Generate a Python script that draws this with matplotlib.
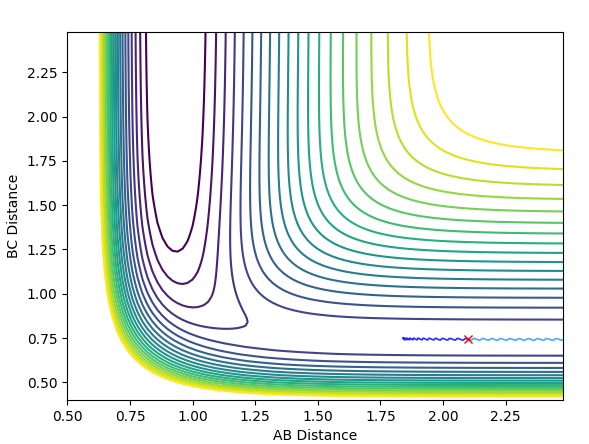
import numpy as np
import matplotlib
matplotlib.use("Agg")
import matplotlib.pyplot as plt

# LEPS surface for collinear F-H-H (eV, 1/Angstrom, Angstrom); A = F, B = C = H
D_HF, BETA_HF, RE_HF = 5.9, 2.2187, 0.917
D_HH, BETA_HH, RE_HH, SATO_HH = 4.746, 1.942, 0.7417, 0.05
BARRIER = 0.006                     # entrance barrier above F + H2 (eV)
MASSES = [19.0, 1.0, 1.0]           # amu

AB_GRID = np.arange(0.5, 2.5, 0.02)
BC_GRID = np.arange(0.4, 2.5, 0.02)
LEVEL_MIN, LEVEL_STEP, N_LEVELS = -5.476, 0.228, 20

# trajectory: released at rest near the transition state, drifts back out
START_AB, START_BC = 1.84, 0.750
CROSS_AB, CROSS_BC = 2.10, 0.742    # red marker
DT, MAX_STEPS = 0.004, 30000        # time unit 10.18 fs


def coulomb_exchange(r, d, beta, re, sato):
    e1 = np.exp(-beta * (r - re))
    e2 = e1 * e1
    q = d / 4.0 * ((3 + sato) * e2 - (2 + 6 * sato) * e1) / (1 + sato)
    j = d / 4.0 * ((1 + 3 * sato) * e2 - (6 + 2 * sato) * e1) / (1 + sato)
    return q, j


def leps(rab, rbc, sato_hf):
    qab, jab = coulomb_exchange(rab, D_HF, BETA_HF, RE_HF, sato_hf)
    qbc, jbc = coulomb_exchange(rbc, D_HH, BETA_HH, RE_HH, SATO_HH)
    qac, jac = coulomb_exchange(rab + rbc, D_HF, BETA_HF, RE_HF, sato_hf)
    ex = np.sqrt(0.5 * ((jab - jbc) ** 2 + (jbc - jac) ** 2 + (jac - jab) ** 2))
    return qab + qbc + qac - ex


def sato_for_barrier():
    # pick the HF Sato parameter that gives the wanted entrance barrier
    af, bf = np.meshgrid(np.arange(1.2, 3.5, 0.005), np.arange(0.6, 0.95, 0.002))
    lo, hi = 0.0, 0.6
    for _ in range(40):
        mid = 0.5 * (lo + hi)
        mep = leps(af, bf, mid).min(axis=0)
        if mep.max() - mep[-1] > BARRIER:
            lo = mid
        else:
            hi = mid
    return 0.5 * (lo + hi)


def run_trajectory(sato_hf, h=1e-6):
    m = np.array(MASSES)

    def accel(p):
        r1, r2 = p[1] - p[0], p[2] - p[1]
        d1 = (leps(r1 + h, r2, sato_hf) - leps(r1 - h, r2, sato_hf)) / (2 * h)
        d2 = (leps(r1, r2 + h, sato_hf) - leps(r1, r2 - h, sato_hf)) / (2 * h)
        return np.array([d1, -d1 + d2, -d2]) / m

    pos = np.array([0.0, START_AB, START_AB + START_BC])
    vel = np.zeros(3)
    acc = accel(pos)
    ab, bc = [START_AB], [START_BC]
    for _ in range(MAX_STEPS):
        pos = pos + vel * DT + 0.5 * acc * DT ** 2
        new_acc = accel(pos)
        vel = vel + 0.5 * (acc + new_acc) * DT
        acc = new_acc
        ab.append(pos[1] - pos[0]); bc.append(pos[2] - pos[1])
        if ab[-1] > 2.6 or ab[-1] < 0.7:
            break
    return np.array(ab), np.array(bc)


sato_hf = sato_for_barrier()
AB, BC = np.meshgrid(AB_GRID, BC_GRID)
V = leps(AB, BC, sato_hf)
levels = LEVEL_MIN + LEVEL_STEP * np.arange(N_LEVELS)

traj_ab, traj_bc = run_trajectory(sato_hf)
past = np.nonzero(traj_ab >= CROSS_AB)[0]
split = int(past[0]) if len(past) else len(traj_ab) - 1

fig = plt.figure(figsize=(5.89, 4.44), dpi=100)
ax = fig.add_axes([0.1143, 0.0991, 0.842, 0.8295])
ax.contour(AB, BC, V, levels=levels, cmap="viridis")
ax.plot(traj_ab[split:], traj_bc[split:], color="#4da6ff", lw=1.2)
ax.plot(traj_ab[:split + 1], traj_bc[:split + 1], color="#1f2fff", lw=1.2)
ax.plot(CROSS_AB, CROSS_BC, "x", color="red")
ax.set_xlim(AB_GRID[0], AB_GRID[-1])
ax.set_ylim(BC_GRID[0], BC_GRID[-1])
ax.set_xlabel("AB Distance")
ax.set_ylabel("BC Distance")
fig.savefig("out.png", dpi=100)
